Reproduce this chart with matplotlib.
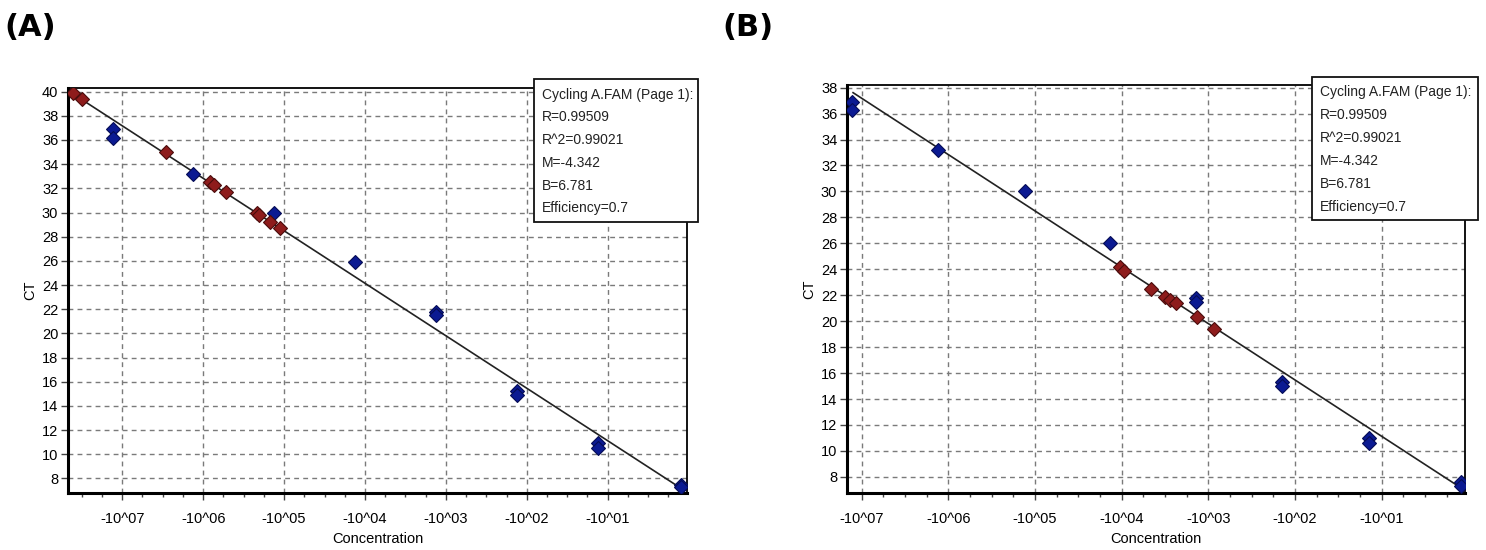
import matplotlib.pyplot as plt
from matplotlib.ticker import MultipleLocator, FuncFormatter
from matplotlib.patches import Rectangle

plt.rcParams['font.family'] = ['Liberation Sans', 'DejaVu Sans']

# x = position on the concentration axis (tick -10^0n sits at x = -n)
a_red_x = [-7.61, -7.50, -6.46, -5.92, -5.86, -5.72, -5.33, -5.31, -5.17, -5.05]
a_red_y = [39.9, 39.4, 35.0, 32.5, 32.3, 31.7, 30.0, 29.8, 29.2, 28.7]
a_blue_x = [-7.11, -7.11, -6.12, -5.12, -4.12, -3.12, -3.12, -2.12, -2.12, -1.12, -1.12, -0.09, -0.09]
a_blue_y = [36.9, 36.2, 33.2, 30.0, 25.9, 21.8, 21.5, 15.2, 14.9, 10.9, 10.5, 7.5, 7.3]

b_red_x = [-4.02, -3.97, -3.66, -3.50, -3.44, -3.38, -3.13, -2.94]
b_red_y = [24.2, 23.9, 22.5, 21.9, 21.6, 21.4, 20.3, 19.4]
b_blue_x = [-7.11, -7.11, -6.12, -5.12, -4.13, -3.14, -3.14, -2.15, -2.15, -1.15, -1.15, -0.09, -0.09]
b_blue_y = [36.9, 36.3, 33.2, 30.0, 26.0, 21.8, 21.5, 15.3, 15.0, 11.0, 10.6, 7.6, 7.3]

slope = -4.342
intercept = 6.781
a_line_x = [-7.62, -0.08]
b_line_x = [-7.10, -0.07]

stats = ['Cycling A.FAM (Page 1):', 'R=0.99509', 'R^2=0.99021',
         'M=-4.342', 'B=6.781', 'Efficiency=0.7']
xticks = [-7, -6, -5, -4, -3, -2, -1]

W, H = 1486, 550
fig = plt.figure(figsize=(W / 100, H / 100), dpi=100)

red_c, red_e = '#8e1c1c', '#4a0c0c'
blue_c, blue_e = '#0b1a92', '#050c55'


def fpos(l, t, r, b):
    return [l / W, 1 - b / H, (r - l) / W, (b - t) / H]


def panel(rect, rx, ry, bx, by, lx, xlim, ylim, yticks, box, tx, rows):
    ax = fig.add_axes(fpos(*rect))
    ly = [slope * v + intercept for v in lx]
    ax.plot(lx, ly, color='#222222', lw=1.2, zorder=3)
    ax.plot(bx, by, 'D', ms=7, color=blue_c, mec=blue_e, mew=0.8, zorder=4)
    ax.plot(rx, ry, 'D', ms=7, color=red_c, mec=red_e, mew=0.8, zorder=4)
    ax.set_xlim(*xlim)
    ax.set_ylim(*ylim)
    ax.set_xticks(xticks)
    ax.xaxis.set_major_formatter(FuncFormatter(lambda v, p: '-10^%02d' % abs(round(v))))
    ax.xaxis.set_minor_locator(MultipleLocator(0.25))
    ax.set_yticks(yticks)
    ax.grid(True, which='major', color='#7a7a7a', lw=1.0, ls=(0, (3.5, 3)))
    ax.tick_params(axis='both', which='major', labelsize=10.5, length=5, width=1, color='#444444', pad=2)
    ax.tick_params(axis='x', which='minor', length=3, width=1, color='#444444')
    ax.tick_params(axis='x', which='major', pad=9)
    for s in ax.spines.values():
        s.set_linewidth(1.3)
    ax.spines['left'].set_linewidth(2.2)
    ax.spines['bottom'].set_linewidth(2.2)
    ax.set_xlabel('Concentration', fontsize=10.5, labelpad=4)
    ax.set_ylabel('CT', fontsize=10.5, labelpad=3)
    l, t, r, b = box
    fig.patches.append(Rectangle((l / W, 1 - b / H), (r - l) / W, (b - t) / H,
                                 transform=fig.transFigure, facecolor='white',
                                 edgecolor='#111111', lw=1.3, zorder=10))
    for s, yy in zip(stats, rows):
        fig.text(tx / W, 1 - yy / H, s, fontsize=10, va='center', ha='left',
                 color='#222222', zorder=11)
    return ax


panel((68, 88, 687, 493), a_red_x, a_red_y, a_blue_x, a_blue_y, a_line_x,
      (-7.67, -0.02), (6.8, 40.3), list(range(8, 41, 2)),
      (534, 79, 698, 222), 542, [95, 117, 140, 163, 186, 208])
panel((847, 85, 1465, 493), b_red_x, b_red_y, b_blue_x, b_blue_y, b_line_x,
      (-7.17, -0.04), (6.76, 38.2), list(range(8, 39, 2)),
      (1312, 77, 1478, 220), 1320, [92, 115, 138, 161, 184, 207])

fig.text(4 / W, 1 - 28 / H, '(A)', fontsize=22, fontweight='bold', va='center', ha='left',
         family='DejaVu Sans')
fig.text(722 / W, 1 - 28 / H, '(B)', fontsize=22, fontweight='bold', va='center', ha='left',
         family='DejaVu Sans')

fig.savefig('out.png', dpi=100)
